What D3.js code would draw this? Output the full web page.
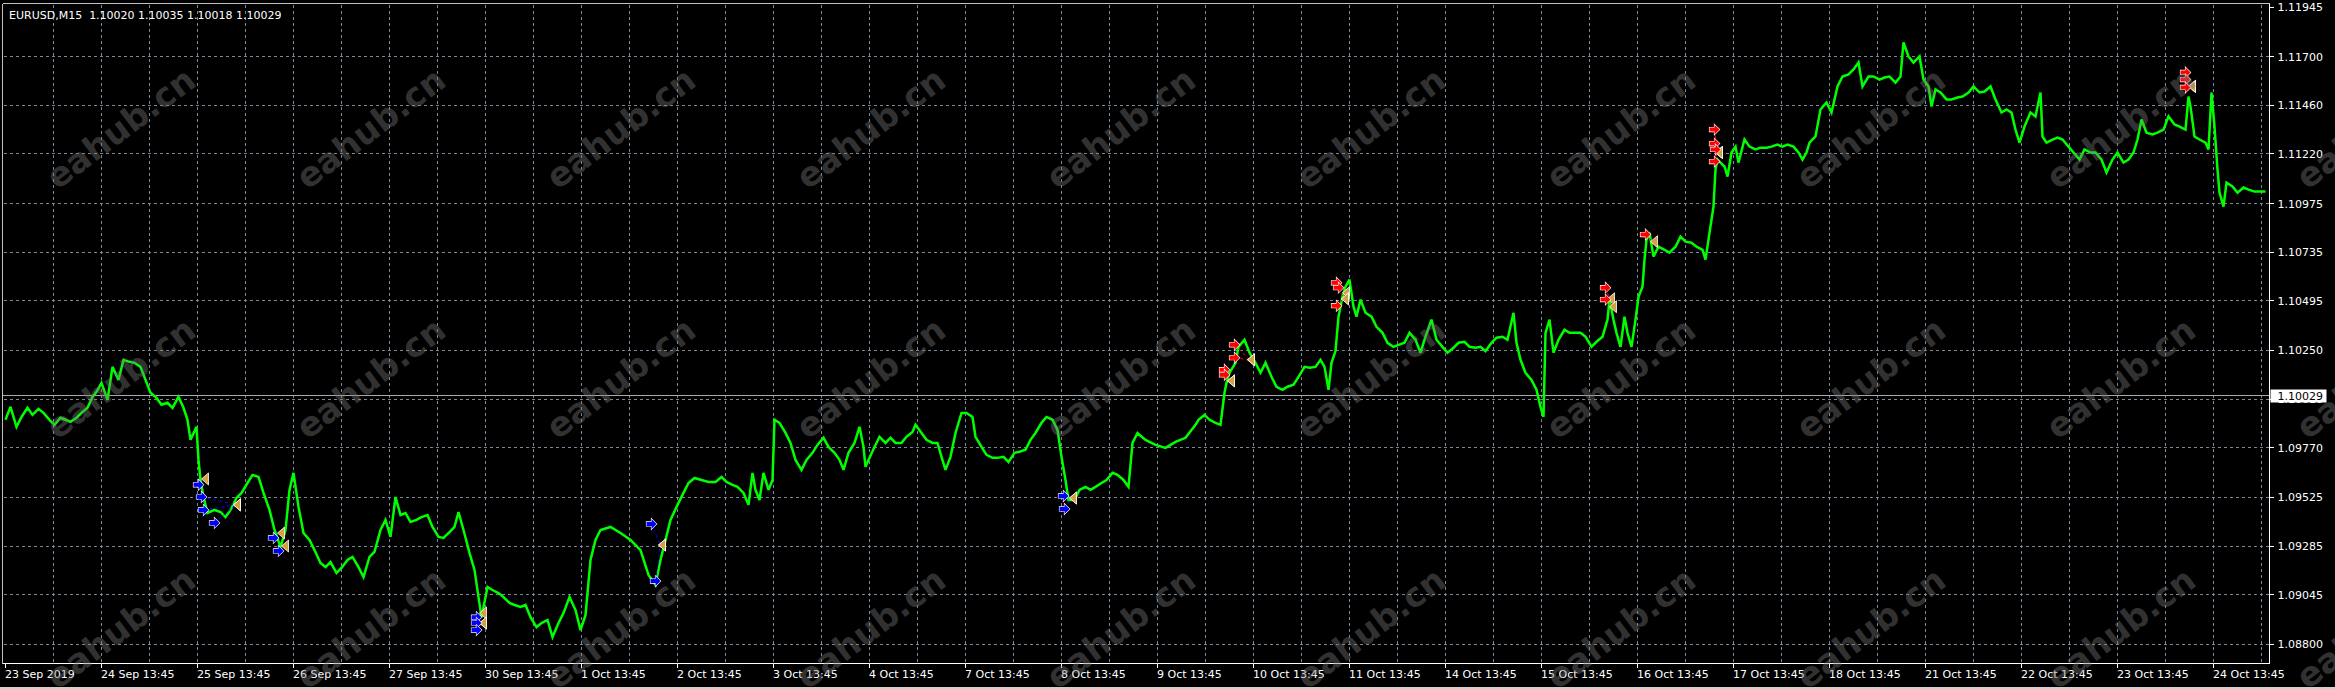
<!DOCTYPE html>
<html>
<head>
<meta charset="utf-8">
<script src="https://cdn.jsdelivr.net/npm/d3@7/dist/d3.min.js"></script>
<style>
  html, body { margin: 0; padding: 0; background: #000; overflow: hidden; }
  svg { display: block; }
</style>
</head>
<body>
<svg id="chart" width="2335" height="689"></svg>
<script>
// ---------------- DATA ----------------
const symbolTitle = "EURUSD,M15  1.10020 1.10035 1.10018 1.10029";
const bidPrice = 1.10029;

// price axis labels
const priceTicks = [1.11945, 1.11700, 1.11460, 1.11220, 1.10975, 1.10735, 1.10495,
  1.10250, 1.10010, 1.09770, 1.09525, 1.09285, 1.09045, 1.08800];

// date axis labels (one every 96 M15 bars)
const dateLabels = ["23 Sep 2019", "24 Sep 13:45", "25 Sep 13:45", "26 Sep 13:45", "27 Sep 13:45",
  "30 Sep 13:45", "1 Oct 13:45", "2 Oct 13:45", "3 Oct 13:45", "4 Oct 13:45", "7 Oct 13:45",
  "8 Oct 13:45", "9 Oct 13:45", "10 Oct 13:45", "11 Oct 13:45", "14 Oct 13:45", "15 Oct 13:45",
  "16 Oct 13:45", "17 Oct 13:45", "18 Oct 13:45", "21 Oct 13:45", "22 Oct 13:45", "23 Oct 13:45",
  "24 Oct 13:45"];
const barsPerLabel = 96;
const barsPerGrid = 48;
const totalBars = 2264;

// sampled close prices (bar index from chart start, price)
const barIndex = [
  0,5,11,16,22,27,33,38,44,49, 55,60,65,71,76,82,87,91,96,102,
  107,113,118,124,129,135,140,145,151,156, 162,167,173,178,182,185,191,193,195,198,
  202,209,215,220,225,231,236,242,247,253, 258,264,269,275,280,284,288,293,298,304,
  309,315,320,325,331,336,342,347,353,358, 364,369,375,380,385,390,395,400,405,411,
  416,422,427,433,438,444,449,453,458,464, 469,473,476,482,487,493,498,504,509,515,
  520,525,531,536,542,547,553,558,564,
  570,575,580,585,590,595,605,615,625,635, 643,650,655,660,665,
  672,678,683,689,696,703,710,716,721,727, 732,738,743,747,750,754,758,763,767,769,
  774,780,785,790,796,801,807,812,818,823, 829,834,838,843,849,854,858,860,863,869,
  874,880,885,890,896,901,907,910,916,921, 927,932,936,940,945,950,956,961,967,970,
  976,981,987,992,998,1003,1009,1014,1020,1025, 1030,1036,1041,1047,1052,1056,1060,1063,1069,1074,
  1080,1085,1090,1096,1101,1107,1112,1118,1123,1127, 1132,1140,1150,1160,1170,1180,
  1190,1193,1199,1204,1210,1215,1219,1221,1224,1230, 1233,1239,1244,1250,1255,1260,1266,1271,1277,1282,
  1288,1293,1299,1304,1310,1315,1319,1323,1326,1330, 1333,1337,1340,1344,1348,1351,1355,1360,1366,1371,
  1377,1382,1388,1393,1399,1404,1410,1415,1420,1426, 1431,1437,1442,1448,1453,1459,1464,1470,1475,1480,
  1486,1491,1497,1502,1508,1511,1515,1520,1526,1531, 1535,1538,1540,1544,1548,1553,1559,1564,1570,1575,
  1580,1586,1591,1597,1602,1604,1608,1611,1615,1619, 1622,1626,1630,1633,1637,1639,1641,1644,1648,1653,
  1659,1664,1670,1675,1680,1686,1691,1697,
  1700,1704,1708,1710,1712,1715,1719,1722,1726,1730, 1733,1739,1744,1750,1755,1761,1766,1772,1777,1782,
  1788,1793,1797,1801,1804,1810,1815,1821,1826,1832, 1837,1843,1848,1853,1857,1863,1868,1874,1879,1884,
  1890,1895,1898,1903,1908,1914,1918,1923,1926,1930, 1935,1941,1946,1952,1957,1963,1968,1974,1979,1985,
  1990,1996,2001,2006,2010,2014,2019,2025,2030,2035, 2037,2041,2047,2052,2057,2063,2068,2074,2079,2085,
  2090,2096,2101,2107,2112,2118,2123,2128,2132,2136, 2141,2147,2152,2158,2163,2169,2174,2180,2183,2185,
  2189,2194,2200,2203,2206,2209,2212,2214,2218,2221, 2227,2232,2238,2243,2249,2254,2260
];
const closePrice = [
  1.09908,1.09972,1.09873,1.09922,1.09967,1.09932,1.09962,1.09942,1.09908,1.09883,
  1.09918,1.09908,1.09898,1.09918,1.09942,1.09967,1.10021,1.10046,1.10090,1.10006,
  1.10169,1.10105,1.10204,1.10194,1.10189,1.10169,1.10105,1.10041,1.10016,1.09982,
  1.09992,1.09967,1.10021,1.09967,1.09908,1.09809,1.09873,1.09710,1.09611,1.09527,
  1.09448,1.09463,1.09453,1.09428,1.09463,1.09522,1.09547,1.09596,1.09636,1.09626,
  1.09547,1.09463,1.09364,1.09280,1.09364,1.09562,1.09646,1.09478,1.09349,1.09315,
  1.09265,1.09201,1.09181,1.09206,1.09152,1.09177,1.09216,1.09231,1.09181,1.09132,
  1.09231,1.09256,1.09364,1.09414,1.09330,1.09527,1.09438,1.09448,1.09404,1.09414,
  1.09428,1.09438,1.09379,1.09330,1.09325,1.09354,1.09379,1.09453,1.09364,1.09251,
  1.09167,1.09033,1.08934,1.09083,1.09068,1.09053,1.09033,1.09004,1.08994,1.08984,
  1.08994,1.08934,1.08885,1.08905,1.08920,1.08836,1.08905,1.08954,1.09033,
  1.08969,1.08870,1.08944,1.09216,1.09315,1.09364,1.09379,1.09349,1.09315,1.09265,
  1.09142,1.09093,1.09216,1.09315,1.09414,
  1.09488,1.09547,1.09596,1.09621,1.09611,1.09601,1.09601,1.09626,1.09601,1.09587,
  1.09577,1.09547,1.09488,1.09646,1.09562,1.09512,1.09646,1.09562,1.09611,1.09908,
  1.09893,1.09843,1.09794,1.09710,1.09661,1.09710,1.09745,1.09784,1.09819,1.09774,
  1.09745,1.09710,1.09661,1.09745,1.09794,1.09873,1.09774,1.09676,1.09710,1.09774,
  1.09824,1.09794,1.09819,1.09794,1.09794,1.09824,1.09848,1.09883,1.09843,1.09809,
  1.09794,1.09794,1.09725,1.09661,1.09725,1.09843,1.09942,1.09942,1.09922,1.09824,
  1.09774,1.09735,1.09720,1.09720,1.09725,1.09700,1.09745,1.09750,1.09760,1.09809,
  1.09843,1.09893,1.09922,1.09908,1.09858,1.09725,1.09611,1.09512,1.09512,1.09562,
  1.09577,1.09562,1.09577,1.09596,1.09611,1.09646,1.09636,1.09611,1.09577,1.09794,
  1.09843,1.09809,1.09784,1.09769,1.09799,1.09819,
  1.09883,1.09908,1.09932,1.09908,1.09893,1.09883,1.10041,1.10090,1.10140,1.10189,
  1.10268,1.10303,1.10239,1.10189,1.10140,1.10189,1.10120,1.10071,1.10056,1.10071,
  1.10081,1.10120,1.10169,1.10165,1.10169,1.10204,1.10169,1.10056,1.10189,1.10247,
  1.10417,1.10515,1.10565,1.10599,1.10466,1.10417,1.10501,1.10436,1.10417,1.10367,
  1.10337,1.10288,1.10268,1.10278,1.10288,1.10337,1.10303,1.10239,1.10318,1.10402,
  1.10303,1.10268,1.10239,1.10263,1.10288,1.10293,1.10268,1.10263,1.10268,1.10247,
  1.10288,1.10313,1.10318,1.10303,1.10436,1.10288,1.10204,1.10140,1.10105,1.10056,
  1.09972,1.09922,1.10337,1.10402,1.10239,1.10303,1.10352,1.10337,1.10337,1.10337,
  1.10318,1.10268,1.10293,1.10318,1.10402,1.10501,1.10402,1.10337,1.10268,1.10417,
  1.10337,1.10268,1.10402,1.10515,1.10565,1.10698,1.10797,1.10831,1.10713,1.10762,
  1.10747,1.10733,1.10762,1.10812,1.10787,1.10782,1.10762,1.10747,
  1.10698,1.10831,1.10960,1.11143,1.11192,1.11177,1.11158,1.11108,1.11227,1.11256,
  1.11177,1.11291,1.11256,1.11242,1.11251,1.11251,1.11256,1.11266,1.11256,1.11266,
  1.11256,1.11227,1.11192,1.11227,1.11276,1.11306,1.11439,1.11474,1.11424,1.11553,
  1.11602,1.11612,1.11637,1.11671,1.11553,1.11602,1.11602,1.11587,1.11597,1.11602,
  1.11572,1.11602,1.11770,1.11701,1.11671,1.11701,1.11587,1.11553,1.11454,1.11538,
  1.11523,1.11489,1.11489,1.11498,1.11503,1.11523,1.11553,1.11523,1.11528,1.11553,
  1.11489,1.11424,1.11439,1.11424,1.11340,1.11276,1.11355,1.11424,1.11405,1.11523,
  1.11306,1.11276,1.11291,1.11301,1.11291,1.11256,1.11227,1.11192,1.11242,1.11227,
  1.11227,1.11192,1.11128,1.11192,1.11227,1.11177,1.11192,1.11227,1.11291,1.11390,
  1.11325,1.11316,1.11325,1.11340,1.11405,1.11365,1.11355,1.11340,1.11503,1.11454,
  1.11306,1.11291,1.11276,1.11242,1.11523,1.11355,1.11143,1.11029,1.10960,1.11078,
  1.11059,1.11029,1.11054,1.11044,1.11034,1.11034,1.11034
];

// trade history: open arrows and close marks
const tradeType   = ["buy","buy","buy","buy","buy","buy","buy","buy","buy","buy","buy","buy","buy",
  "sell","sell","sell","sell","sell","sell","sell","sell","sell","sell","sell","sell","sell","sell","sell","sell","sell"];
const tradeOpenBar   = [193,196,198,209,268,273,471,471,471,646,650,1058,1059,
  1219,1219,1229,1229,1331,1333,1331,1600,1600,1640,1709,1709,1710,1709,2180,2180,2180];
const tradeOpenPrice = [1.09587,1.09527,1.09463,1.09399,1.09325,1.09261,1.08934,1.08905,1.08870,1.09394,1.09112,1.09532,1.09468,
  1.10155,1.10130,1.10278,1.10214,1.10584,1.10560,1.10471,1.10560,1.10501,1.10822,1.11340,1.11271,1.11242,1.11182,1.11622,1.11587,1.11548];
const tradeCloseBar  = [198,230,230,230,274,278,476,476,476,655,655,1066,1066,
  1224,1224,1244,1244,1339,1338,1338,1604,1606,1647,1712,1712,1712,1712,2185,2185,2185];
const tradeClosePrice= [1.09616,1.09488,1.09488,1.09488,1.09349,1.09285,1.08954,1.08905,1.08905,1.09290,1.09290,1.09522,1.09522,
  1.10100,1.10100,1.10204,1.10204,1.10535,1.10505,1.10505,1.10505,1.10466,1.10787,1.11227,1.11227,1.11227,1.11227,1.11553,1.11553,1.11553];

const watermarkText = "eahub.cn";

// ---------------- DRAW ----------------
const svg = d3.select("#chart");
const W = 2335, H = 689;
const plot = { left: 2.5, top: 3.5, right: 2269.5, bottom: 663.5 };

const x = d3.scaleLinear().domain([0, totalBars]).range([5.5, 5.5 + totalBars]);
const y = d3.scaleLinear().domain([1.08800, 1.11945]).range([644.3, 7.0]);
const snap = v => Math.round(v - 0.5) + 0.5;

svg.append("rect").attr("x", 0).attr("y", 0).attr("width", W).attr("height", H).attr("fill", "#000");

// grid
const grid = svg.append("g").attr("stroke", "#778899").attr("stroke-width", 1)
  .attr("stroke-dasharray", "3,3").attr("shape-rendering", "crispEdges");
const vgrid = d3.range(barsPerGrid, totalBars, barsPerGrid);
grid.selectAll("line.v").data(vgrid).join("line")
  .attr("x1", d => snap(x(d))).attr("x2", d => snap(x(d)))
  .attr("y1", plot.top + 1).attr("y2", plot.bottom - 1);
grid.selectAll("line.h").data(priceTicks.filter(p => y(p) > plot.top + 8)).join("line")
  .attr("x1", plot.left + 1).attr("x2", plot.right - 1)
  .attr("y1", d => snap(y(d))).attr("y2", d => snap(y(d)));

// bid line
svg.append("line").attr("x1", plot.left).attr("x2", plot.right)
  .attr("y1", snap(y(bidPrice))).attr("y2", snap(y(bidPrice)))
  .attr("stroke", "#a9a9a9").attr("stroke-width", 1).attr("shape-rendering", "crispEdges");

// price series
const n = Math.min(barIndex.length, closePrice.length);
const series = d3.range(n).map(i => ({ b: barIndex[i], p: closePrice[i] }));
const line = d3.line().x(d => x(d.b)).y(d => y(d.p));
svg.append("path").datum(series).attr("d", line)
  .attr("fill", "none").attr("stroke", "#00ff00").attr("stroke-width", 2.5)
  .attr("stroke-linejoin", "miter").attr("stroke-miterlimit", 3);

// trades
const trades = tradeType.map((t, i) => ({
  t, ob: tradeOpenBar[i], op: tradeOpenPrice[i], cb: tradeCloseBar[i], cp: tradeClosePrice[i]
}));
const tg = svg.append("g");
tg.selectAll("line").data(trades).join("line")
  .attr("x1", d => x(d.ob)).attr("y1", d => y(d.op))
  .attr("x2", d => x(d.cb)).attr("y2", d => y(d.cp))
  .attr("stroke", d => d.t === "buy" ? "#0000ff" : "#ff0000")
  .attr("stroke-width", 1).attr("stroke-dasharray", "3,3");
// close marks (left-pointing golden triangle)
tg.selectAll("path.close").data(trades).join("path").attr("class", "close")
  .attr("transform", d => `translate(${x(d.cb) + 2},${y(d.cp)})`)
  .attr("d", "M3,-6 L3,6 L-4,0 Z")
  .attr("fill", "#d4a040").attr("stroke", "#ffffff").attr("stroke-width", 0.8);
// open arrows
const arrowPath = "M-5,-2 L0,-2 L0,-5 L5,0 L0,5 L0,2 L-5,2 Z";
tg.selectAll("path.open").data(trades).join("path").attr("class", "open")
  .attr("transform", d => `translate(${x(d.ob)},${y(d.op)})`)
  .attr("d", arrowPath)
  .attr("fill", d => d.t === "buy" ? "#0000ff" : "#ff0000")
  .attr("stroke", "#ffffff").attr("stroke-width", 1.2).attr("paint-order", "stroke");

// frame
const frame = svg.append("g").attr("stroke", "#ffffff").attr("stroke-width", 1).attr("shape-rendering", "crispEdges");
frame.append("line").attr("x1", plot.right).attr("x2", plot.right).attr("y1", plot.top).attr("y2", plot.bottom);
frame.append("line").attr("x1", plot.left).attr("x2", plot.right).attr("y1", plot.bottom).attr("y2", plot.bottom);
frame.append("line").attr("x1", plot.left).attr("x2", plot.right).attr("y1", plot.top).attr("y2", plot.top).attr("stroke", "#c0c0c0");
frame.append("line").attr("x1", plot.left).attr("x2", plot.left).attr("y1", plot.top).attr("y2", plot.bottom).attr("stroke", "#c0c0c0");

// price axis
const font = "'DejaVu Sans', Verdana, sans-serif";
const pa = svg.append("g");
pa.selectAll("line").data(priceTicks).join("line")
  .attr("x1", plot.right).attr("x2", plot.right + 4)
  .attr("y1", d => snap(y(d))).attr("y2", d => snap(y(d)))
  .attr("stroke", "#fff").attr("shape-rendering", "crispEdges");
pa.selectAll("text").data(priceTicks).join("text")
  .attr("x", plot.right + 8).attr("y", d => y(d) + 4)
  .attr("fill", "#fff").attr("font-family", font).attr("font-size", "11px")
  .text(d => d.toFixed(5));

// bid label
const bidY = snap(y(bidPrice));
svg.append("rect").attr("x", plot.right + 1).attr("y", bidY - 6).attr("width", 56).attr("height", 13).attr("fill", "#fff");
svg.append("text").attr("x", plot.right + 8).attr("y", bidY + 4)
  .attr("fill", "#000").attr("font-family", font).attr("font-size", "11px").text(bidPrice.toFixed(5));

// date axis
const da = svg.append("g");
const labelBars = dateLabels.map((d, i) => i * barsPerLabel);
da.selectAll("line").data(labelBars).join("line")
  .attr("x1", d => snap(x(d))).attr("x2", d => snap(x(d)))
  .attr("y1", plot.bottom).attr("y2", plot.bottom + 4)
  .attr("stroke", "#fff").attr("shape-rendering", "crispEdges");
da.selectAll("text").data(dateLabels).join("text")
  .attr("x", (d, i) => x(labelBars[i]) - 0.5).attr("y", 678)
  .attr("fill", "#fff").attr("font-family", font).attr("font-size", "11px")
  .text(d => d);

// header
svg.append("text").attr("x", 9).attr("y", 19).attr("fill", "#fff")
  .attr("font-family", font).attr("font-size", "11px").attr("xml:space", "preserve")
  .style("white-space", "pre").text(symbolTitle);

// bottom window edge
svg.append("rect").attr("x", 0).attr("y", 687).attr("width", W).attr("height", 2).attr("fill", "#d4d0c8");

// watermarks
const wmCols = d3.range(0, 10).map(i => 122 + i * 250);
const wmRows = [130, 380, 630];
const wm = svg.append("g").attr("pointer-events", "none");
wmRows.forEach(ry => {
  wmCols.forEach(cx => {
    wm.append("text").attr("transform", `translate(${cx},${ry}) rotate(-37)`)
      .attr("text-anchor", "middle").attr("dominant-baseline", "middle")
      .attr("font-family", font).attr("font-weight", "bold").attr("font-size", "34px")
      .attr("fill", "#7a7a7a").attr("fill-opacity", 0.42).text(watermarkText);
  });
});
</script>
</body>
</html>
